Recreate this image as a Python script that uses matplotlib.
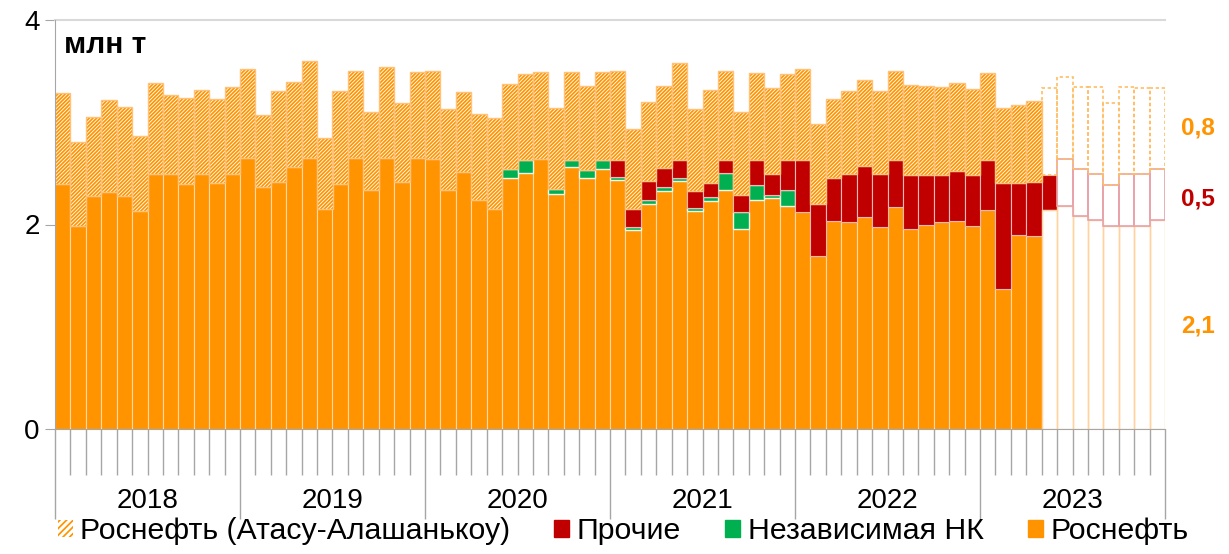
import matplotlib
matplotlib.use("Agg")
import matplotlib.pyplot as plt
import numpy as np
from matplotlib.patches import Patch
from matplotlib.transforms import blended_transform_factory

plt.rcParams['font.family'] = ['Liberation Sans', 'DejaVu Sans']
plt.rcParams['hatch.linewidth'] = 1.25

# Data (млн т по месяцам, янв 2018 - дек 2023)
years = ['2018', '2019', '2020', '2021', '2022', '2023']

rosneft = [2.40, 1.99, 2.28, 2.32, 2.28, 2.13, 2.49, 2.49, 2.40, 2.49, 2.41, 2.49,
           2.65, 2.37, 2.42, 2.56, 2.65, 2.15, 2.40, 2.65, 2.34, 2.65, 2.42, 2.65,
           2.64, 2.34, 2.51, 2.24, 2.15, 2.46, 2.50, 2.64, 2.30, 2.56, 2.46, 2.54,
           2.44, 1.95, 2.20, 2.33, 2.43, 2.13, 2.23, 2.34, 1.96, 2.24, 2.26, 2.18,
           2.12, 1.69, 2.03, 2.02, 2.07, 1.98, 2.17, 1.96, 2.00, 2.02, 2.03, 1.99,
           2.14, 1.37, 1.90, 1.89, 2.14, 2.18, 2.08, 2.04, 1.99, 1.99, 1.99, 2.04]

nezavisimaya = [0] * 29 + [0.08, 0.13, 0.00, 0.05, 0.07, 0.07, 0.09,
                           0.03, 0.03, 0.04, 0.04, 0.03, 0.03, 0.04, 0.16, 0.16, 0.15, 0.03, 0.16] + [0] * 24

prochie = [0] * 36 + [0.16, 0.17, 0.19, 0.18, 0.17, 0.17, 0.14, 0.13, 0.17, 0.24, 0.20, 0.29,
                      0.51, 0.51, 0.43, 0.47, 0.50, 0.51, 0.46, 0.52, 0.48, 0.46, 0.49, 0.49,
                      0.49, 1.04, 0.51, 0.53, 0.34, 0.46, 0.46, 0.45, 0.40, 0.50, 0.50, 0.50]

atasu = [0.89, 0.82, 0.77, 0.90, 0.87, 0.74, 0.90, 0.78, 0.84, 0.83, 0.82, 0.86,
         0.87, 0.70, 0.89, 0.84, 0.95, 0.70, 0.91, 0.85, 0.76, 0.89, 0.77, 0.84,
         0.86, 0.79, 0.79, 0.84, 0.89, 0.84, 0.84, 0.85, 0.79, 0.86, 0.83, 0.86,
         0.87, 0.79, 0.77, 0.81, 0.95, 0.80, 0.91, 0.87, 0.81, 0.85, 0.85, 0.84,
         0.89, 0.78, 0.77, 0.82, 0.85, 0.82, 0.87, 0.89, 0.88, 0.87, 0.87, 0.85,
         0.85, 0.73, 0.76, 0.79, 0.86, 0.80, 0.81, 0.86, 0.80, 0.86, 0.85, 0.80]

n_fact = 64         # полные факт. данные до апреля 2023
n_fact_prochie = 65  # "Прочие" факт. по май 2023
forecast_labels = ['0,8', '0,5', '2,1']

ORANGE = '#FF9400'
RED = '#C00000'
GREEN = '#00B050'
HATCH = '/' * 9

r = np.array(rosneft)
g = np.array(nezavisimaya)
p = np.array(prochie)
a = np.array(atasu)
x = np.arange(len(r))

fig = plt.figure(figsize=(12.29, 5.54), dpi=100)
ax = fig.add_axes([55 / 1229, (554 - 428.7) / 554, 1110 / 1229, 408.4 / 554])

fact = x < n_fact
fc = ~fact
# fact bars
ax.bar(x[fact], r[fact], width=1, color=ORANGE, edgecolor='#FFD8A8', lw=0.8)
gm = fact & (g > 0)
ax.bar(x[gm], g[gm], bottom=r[gm], width=1, color=GREEN, edgecolor='#E8F6EC', lw=1)
pm = (x < n_fact_prochie) & (p > 0)
ax.bar(x[pm], p[pm], bottom=(r + g)[pm], width=1, color=RED, edgecolor='#F2B8B8', lw=0.8)
ax.bar(x[fact], a[fact], bottom=(r + g + p)[fact], width=1, facecolor='white',
       edgecolor=ORANGE, hatch=HATCH, lw=0)
ax.bar(x[fact], a[fact], bottom=(r + g + p)[fact], width=1, fill=False,
       edgecolor='#FFC27A', lw=1)

# forecast outlines
ax.bar(x[fc], r[fc], width=1, fill=False, edgecolor='#FFD29E', lw=1)
pf = x >= n_fact_prochie
ax.bar(x[pf], p[pf], bottom=r[pf], width=1, fill=False, edgecolor='#E8A2A8', lw=1.2)
ax.bar(x[fc], a[fc], bottom=(r + p)[fc], width=1, fill=False, edgecolor='#FFBE66',
       lw=1.2, linestyle=(0, (2, 1.6)))

ax.set_xlim(-0.5, 71.5)
ax.set_ylim(0, 4)
ax.axhline(4, color='#D9D9D9', lw=1.5, clip_on=False)

for s in ['top', 'right']:
    ax.spines[s].set_visible(False)
for s in ['left', 'bottom']:
    ax.spines[s].set_color('#A6A6A6')

ax.set_yticks([0, 2, 4])
ax.tick_params(axis='y', length=7, color='#A6A6A6', labelsize=20, pad=4)
ax.set_xticks(np.arange(-0.5, 72, 12))
ax.set_xticks(np.arange(-0.5, 72, 1), minor=True)
ax.tick_params(axis='x', which='major', length=65, color='#A6A6A6', width=1, labelbottom=False)
ax.tick_params(axis='x', which='minor', length=33, color='#A6A6A6', width=1)

tr = blended_transform_factory(ax.transData, ax.transAxes)
for i, y in enumerate(years):
    ax.text(12 * i + 5.5, -0.178, y, transform=tr, ha='center', va='center', fontsize=20)

fig.text(64 / 1229, 1 - 45 / 554, 'млн т', fontsize=21.5, fontweight='bold', va='center')

fig.text(1198 / 1229, 1 - 128 / 554, forecast_labels[0], color=ORANGE, fontsize=17.5,
         fontweight='bold', ha='center', va='center')
fig.text(1198 / 1229, 1 - 199 / 554, forecast_labels[1], color=RED, fontsize=17.5,
         fontweight='bold', ha='center', va='center')
fig.text(1198 / 1229, 1 - 326 / 554, forecast_labels[2], color=ORANGE, fontsize=17.5,
         fontweight='bold', ha='center', va='center')

handles = [Patch(facecolor='white', edgecolor=ORANGE, hatch='/' * 5, lw=0),
           Patch(facecolor=RED, edgecolor=RED),
           Patch(facecolor=GREEN, edgecolor=GREEN),
           Patch(facecolor=ORANGE, edgecolor=ORANGE)]
labels = ['Роснефть (Атасу-Алашанькоу)', 'Прочие', 'Независимая НК', 'Роснефть']
fig.legend(handles, labels, loc='center', bbox_to_anchor=(623 / 1229, 1 - 531 / 554), ncol=4,
           frameon=False, fontsize=21.8, handlelength=0.5, handleheight=0.5,
           handletextpad=0.25, columnspacing=1.45, borderpad=0, borderaxespad=0)

fig.savefig('out.png', dpi=100)
